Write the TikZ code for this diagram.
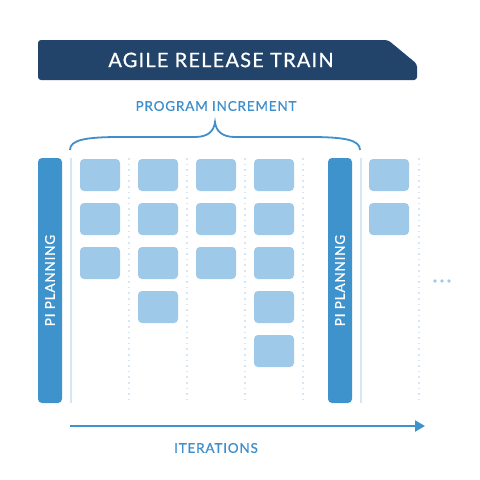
\documentclass[tikz,border=0pt]{standalone}
\usepackage{fontspec}
\setmainfont{Lato}
\newfontfamily\labelfont[LetterSpace=6,FakeBold=0.7]{Lato}
\usetikzlibrary{arrows.meta}
\definecolor{navy}{HTML}{22436A}
\definecolor{barblue}{HTML}{3E93CD}
\definecolor{boxblue}{HTML}{9EC9E8}
\definecolor{lineblue}{HTML}{D5E6F5}
\definecolor{textblue}{HTML}{3E8FCB}
\tikzset{
  card/.style={fill=boxblue, rounded corners=4pt, minimum width=40pt, minimum height=32pt, inner sep=0pt},
  pibar/.style={fill=barblue, rounded corners=4pt, minimum width=24pt, minimum height=245pt, inner sep=0pt, text=white, font=\labelfont\fontsize{13.5}{13.5}\selectfont},
  solidsep/.style={draw=lineblue, line width=1.6pt},
  dotsep/.style={draw=lineblue, line width=1.6pt, dash pattern=on 1.6pt off 4pt},
  bluelabel/.style={text=textblue, font=\labelfont\fontsize{13.5}{13.5}\selectfont, inner sep=0pt},
}
\begin{document}
\begin{tikzpicture}[x=1pt,y=-1pt]
\useasboundingbox (0,0) rectangle (480,480);
% banner
\fill[navy, rounded corners=3pt] (38,40) -- (388,40) -- (417,64) -- (417,80) -- (38,80) -- cycle;
\node[text=white, font=\labelfont\fontsize{20}{20}\selectfont, inner sep=0pt] (title) at (221,60) {AGILE RELEASE TRAIN};
% program increment
\node[bluelabel] (pi) at (216,106) {PROGRAM INCREMENT};
\coordinate (bl) at (70,150);
\coordinate (bp) at (215,122);
\coordinate (br) at (360,150);
\draw[textblue, line width=1.8pt] (bl) .. controls (70,140) and (85,137) .. (120,137) -- (195,137) .. controls (208,137) and (214,131) .. (bp)
  .. controls (216,131) and (222,137) .. (235,137) -- (310,137) .. controls (345,137) and (360,140) .. (br);
% separators
\coordinate (s1t) at (71,158); \coordinate (s1b) at (71,403);
\coordinate (s2t) at (361,158); \coordinate (s2b) at (361,403);
\draw[solidsep] (s1t) -- (s1b);
\draw[solidsep] (s2t) -- (s2b);
\foreach \x in {129,187,245,303,419} {
  \draw[dotsep] (\x,158) -- (\x,403);
}
% PI planning bars
\node[pibar] (pil) at (50,280.5) {\rotatebox{90}{PI PLANNING}};
\node[pibar] (pir) at (340,280.5) {\rotatebox{90}{PI PLANNING}};
% cards
\node[card] (a1) at (100,175) {};
\node[card] (a2) at (100,219) {};
\node[card] (a3) at (100,263) {};
\node[card] (b1) at (158,175) {};
\node[card] (b2) at (158,219) {};
\node[card] (b3) at (158,263) {};
\node[card] (b4) at (158,307) {};
\node[card] (c1) at (216,175) {};
\node[card] (c2) at (216,219) {};
\node[card] (c3) at (216,263) {};
\node[card] (d1) at (274,175) {};
\node[card] (d2) at (274,219) {};
\node[card] (d3) at (274,263) {};
\node[card] (d4) at (274,307) {};
\node[card] (d5) at (274,351) {};
\node[card] (e1) at (389,175) {};
\node[card] (e2) at (389,219) {};
% ellipsis
\foreach \x in {435,442,449} { \fill[boxblue] (\x,281) circle (1.8pt); }
% iterations arrow
\coordinate (as) at (70,426);
\coordinate (ae) at (425,426);
\draw[barblue, line width=2pt, -{Triangle[length=10pt,width=11pt]}] (as) -- (ae);
\node[bluelabel] (it) at (216,448) {ITERATIONS};
\end{tikzpicture}
\end{document}
